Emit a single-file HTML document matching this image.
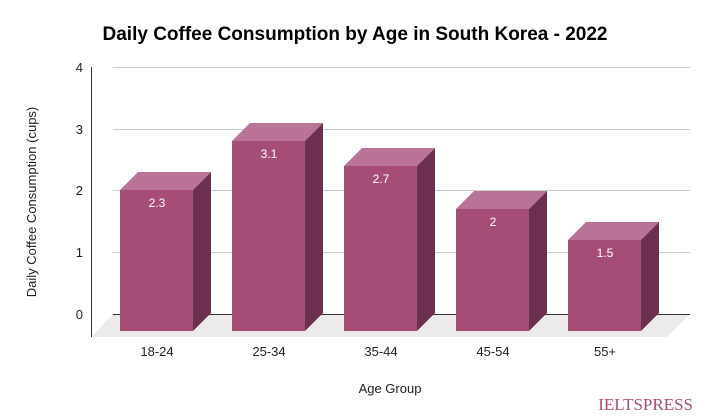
<!DOCTYPE html>
<html><head><style>body{margin:0;background:#fff}svg{display:block}text{font-family:"Liberation Sans",sans-serif}text.wm{font-family:"Liberation Serif",serif}</style></head><body>
<svg width="709" height="420" viewBox="0 0 709 420">
<text x="355" y="40" text-anchor="middle" font-size="19" font-weight="bold" fill="#000">Daily Coffee Consumption by Age in South Korea - 2022</text>
<polygon points="113,314 690,314 667,337 91,337" fill="#ebebeb"/>
<g stroke="#ccc" stroke-width="1">
<line x1="113" y1="67.5" x2="690" y2="67.5"/><line x1="113" y1="129.5" x2="690" y2="129.5"/><line x1="113" y1="190.5" x2="690" y2="190.5"/><line x1="113" y1="252.5" x2="690" y2="252.5"/>
</g>
<line x1="113" y1="314.5" x2="690" y2="314.5" stroke="#333"/>
<line x1="91.5" y1="67" x2="91.5" y2="337" stroke="#333"/>
<g font-size="13" fill="#222" text-anchor="end">
<text x="83" y="72">4</text><text x="83" y="134">3</text><text x="83" y="195">2</text><text x="83" y="257">1</text><text x="83" y="319">0</text>
</g>
<g>
<polygon points="120,190 193,190 211,172 138,172" fill="#b87396"/><polygon points="193,190 211,172 211,313 193,331" fill="#6b2f50"/><rect x="120" y="190" width="73" height="141" fill="#a64d77"/>
<polygon points="232,141 305,141 323,123 250,123" fill="#b87396"/><polygon points="305,141 323,123 323,313 305,331" fill="#6b2f50"/><rect x="232" y="141" width="73" height="190" fill="#a64d77"/>
<polygon points="344,166 417,166 435,148 362,148" fill="#b87396"/><polygon points="417,166 435,148 435,313 417,331" fill="#6b2f50"/><rect x="344" y="166" width="73" height="165" fill="#a64d77"/>
<polygon points="456,209 529,209 547,191 474,191" fill="#b87396"/><polygon points="529,209 547,191 547,313 529,331" fill="#6b2f50"/><rect x="456" y="209" width="73" height="122" fill="#a64d77"/>
<polygon points="568,240 641,240 659,222 586,222" fill="#b87396"/><polygon points="641,240 659,222 659,313 641,331" fill="#6b2f50"/><rect x="568" y="240" width="73" height="91" fill="#a64d77"/>
</g>
<g font-size="12" fill="#fff" text-anchor="middle">
<text x="157" y="207">2.3</text><text x="269" y="158">3.1</text><text x="381" y="183">2.7</text><text x="493" y="226">2</text><text x="605" y="257">1.5</text>
</g>
<g font-size="13" fill="#222" text-anchor="middle">
<text x="157" y="356">18-24</text><text x="269" y="356">25-34</text><text x="381" y="356">35-44</text><text x="493" y="356">45-54</text><text x="605" y="356">55+</text>
<text x="390" y="393">Age Group</text>
<text transform="translate(36,202) rotate(-90)">Daily Coffee Consumption (cups)</text>
</g>
<text class="wm" x="693" y="410" text-anchor="end" font-size="17" fill="#a64d77" style="font-family:'Liberation Serif',serif">IELTSPRESS</text>
</svg>
</body></html>
